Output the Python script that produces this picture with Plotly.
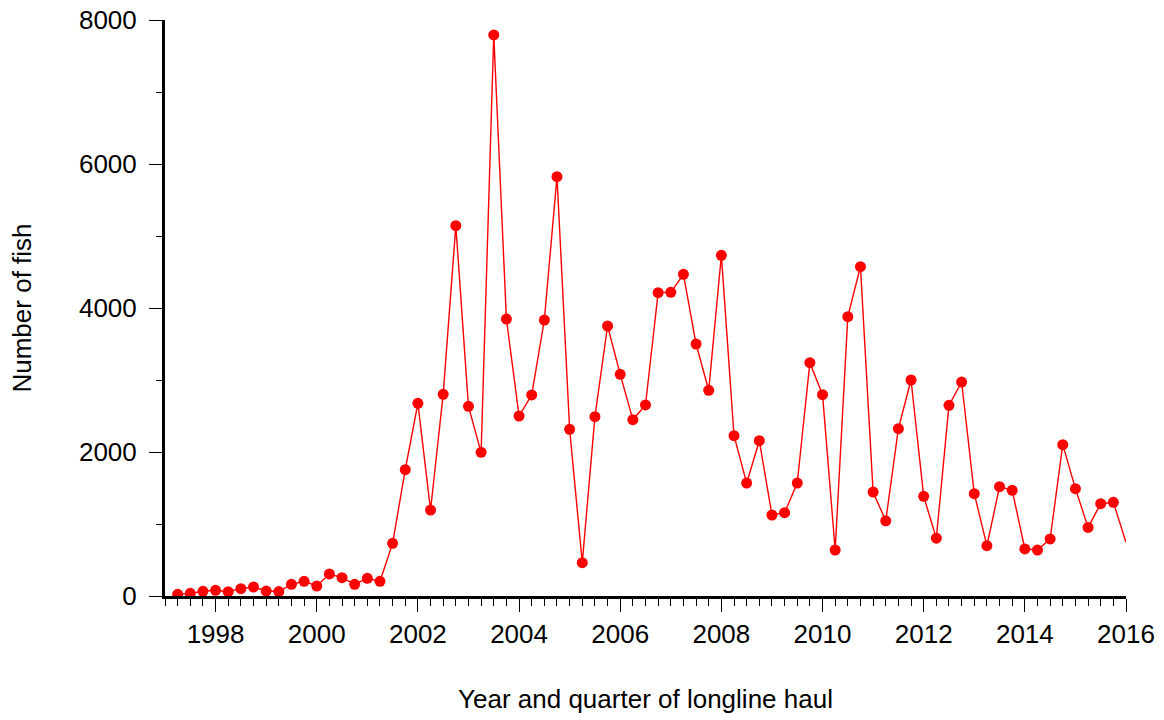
import plotly.graph_objects as go

# Quarterly time axis (decimal year at each quarter tick)
first_year = 1997
quarter_index = list(range(1, 77))  # 1997.25 ... 2016.0
haul_time = [first_year + q / 4 for q in quarter_index]

# Number of fish per quarter
fish_count = [
    24, 37, 65,                      # 1997 Q2-Q4
    79, 60, 102, 125,                # 1998
    69, 62, 162, 204,                # 1999
    139, 306, 255, 162,              # 2000
    245, 204, 731, 1754,             # 2001
    2676, 1194, 2801, 5143,          # 2002
    2634, 1995, 7792, 3847,          # 2003
    2500, 2792, 3833, 5824,          # 2004
    2315, 463, 2491, 3750,           # 2005
    3079, 2449, 2653, 4213,          # 2006
    4218, 4468, 3500, 2857,          # 2007
    4732, 2227, 1569, 2157,          # 2008
    1125, 1157, 1569, 3241,          # 2009
    2796, 639, 3880, 4574,           # 2010
    1444, 1044, 2324, 3000,          # 2011
    1384, 803, 2648, 2972,           # 2012
    1421, 699, 1519, 1468,           # 2013
    653, 639, 792, 2102,             # 2014
    1491, 953, 1282, 1301,           # 2015
    746,                             # 2016 (line end, no marker drawn)
]

x_tick_vals = [1998, 2000, 2002, 2004, 2006, 2008, 2010, 2012, 2014, 2016]
x_tick_text = [str(v) for v in x_tick_vals]
y_tick_vals = [0, 2000, 4000, 6000, 8000]

x_title = "Year and quarter of longline haul"
y_title = "Number of fish"

FONT = "Liberation Sans, Arial, Helvetica, sans-serif"

marker_sizes = [11] * (len(fish_count) - 1) + [0]

fig = go.Figure()
fig.add_trace(go.Scatter(
    x=haul_time, y=fish_count,
    mode="lines+markers",
    line=dict(color="#ff0000", width=1.4),
    marker=dict(color="#ff0000", size=marker_sizes, opacity=1, line=dict(width=0)),
    cliponaxis=True,
    showlegend=False,
))

fig.update_layout(
    width=1164, height=720,
    margin=dict(l=165, r=38, t=20, b=124, autoexpand=False),
    paper_bgcolor="white", plot_bgcolor="white",
    font=dict(family=FONT, size=26, color="black"),
)

fig.update_xaxes(
    range=[1997, 2016],
    tickvals=x_tick_vals, ticktext=x_tick_text,
    ticks="outside", ticklen=13, tickwidth=1.3, tickcolor="black",
    minor=dict(dtick=0.25, tick0=1997, ticks="outside", ticklen=7,
               tickwidth=1.3, tickcolor="black", showgrid=False),
    showline=True, linewidth=3, linecolor="black",
    showgrid=False, zeroline=False,
    ticklabelstandoff=0,
    tickfont=dict(family=FONT, size=26, color="black"),
    title=dict(text=x_title, font=dict(family=FONT, size=26, color="black"), standoff=42),
    automargin=False,
)

fig.update_yaxes(
    range=[0, 8000],
    tickvals=y_tick_vals,
    ticks="outside", ticklen=13, tickwidth=1.3, tickcolor="black",
    minor=dict(dtick=1000, tick0=0, ticks="outside", ticklen=6,
               tickwidth=1.3, tickcolor="black", showgrid=False),
    showline=True, linewidth=3, linecolor="black",
    showgrid=False, zeroline=False,
    ticklabelstandoff=7,
    tickfont=dict(family=FONT, size=26, color="black"),
    title=dict(text=y_title, font=dict(family=FONT, size=26, color="black"), standoff=40),
    automargin=False,
)

fig.write_html("out.html", config={"displayModeBar": False},
               post_script="document.body.style.margin='0';")
